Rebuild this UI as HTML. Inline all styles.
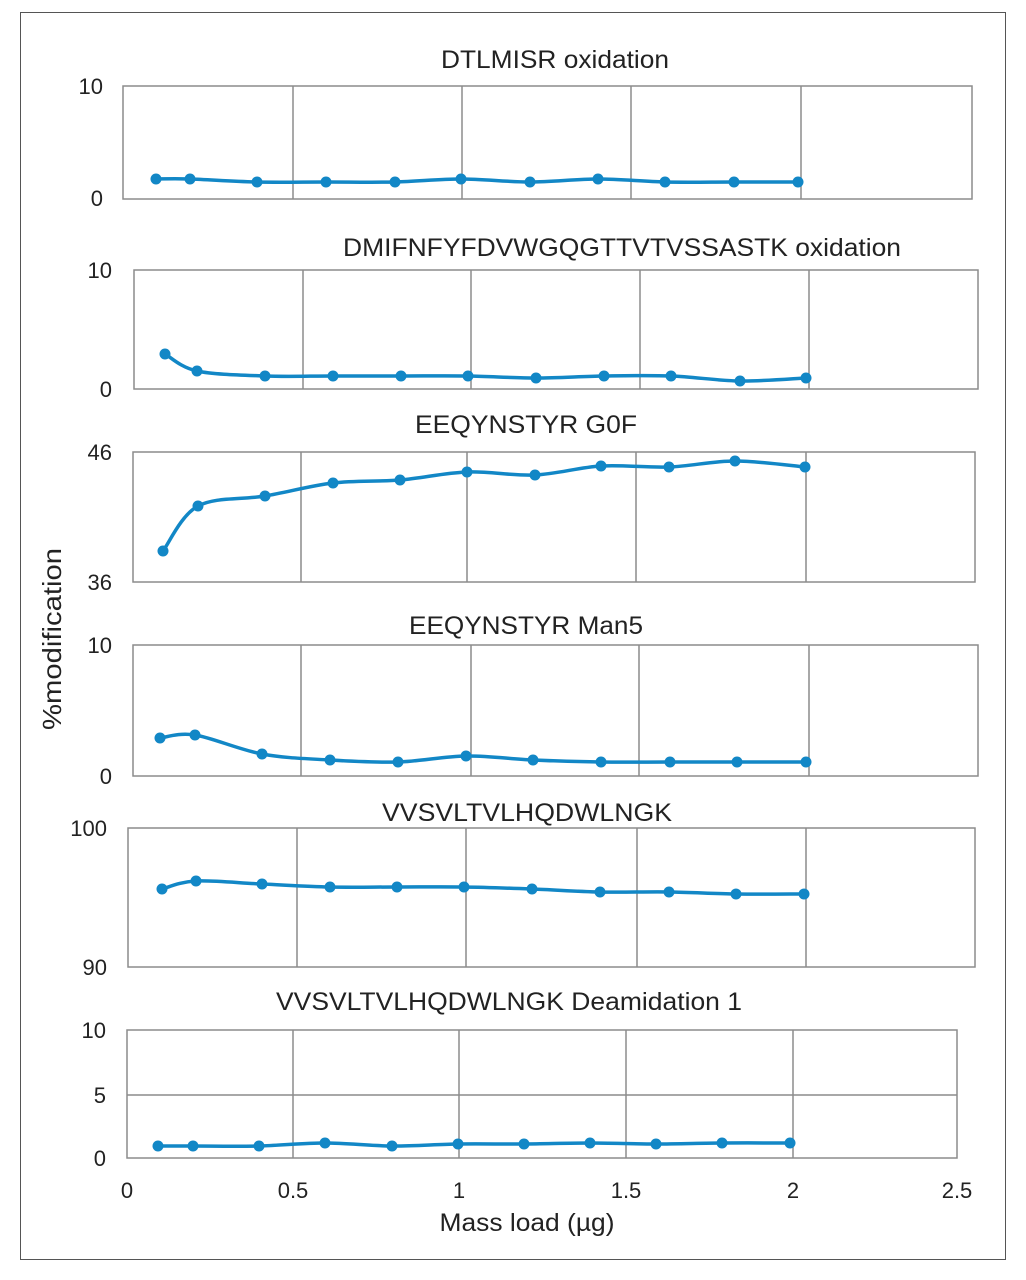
<!DOCTYPE html>
<html><head><meta charset="utf-8"><style>
html,body{margin:0;padding:0;background:#fff;}
svg{display:block;}
text{font-family:"Liberation Sans",Arial,sans-serif;fill:#222;}
</style></head><body>
<svg id="s" width="1026" height="1280" viewBox="0 0 1026 1280" xmlns="http://www.w3.org/2000/svg">
<rect x="20.5" y="12.5" width="985" height="1247" fill="none" stroke="#555" stroke-width="1"/>
<g font-size="25" text-anchor="middle" lengthAdjust="spacingAndGlyphs">
<text x="555" y="68" textLength="228" lengthAdjust="spacingAndGlyphs">DTLMISR oxidation</text>
<text x="622" y="256" textLength="558" lengthAdjust="spacingAndGlyphs">DMIFNFYFDVWGQGTTVTVSSASTK oxidation</text>
<text x="526" y="433" textLength="222" lengthAdjust="spacingAndGlyphs">EEQYNSTYR G0F</text>
<text x="526" y="634" textLength="234" lengthAdjust="spacingAndGlyphs">EEQYNSTYR Man5</text>
<text x="527" y="821" textLength="290" lengthAdjust="spacingAndGlyphs">VVSVLTVLHQDWLNGK</text>
<text x="509" y="1010" textLength="466" lengthAdjust="spacingAndGlyphs">VVSVLTVLHQDWLNGK Deamidation 1</text>
<text x="527" y="1231" textLength="175" lengthAdjust="spacingAndGlyphs">Mass load (µg)</text>
</g>
<g font-size="22" text-anchor="end">
<text x="103" y="94">10</text><text x="103" y="206">0</text>
<text x="112" y="278">10</text><text x="112" y="397">0</text>
<text x="112" y="460">46</text><text x="112" y="590">36</text>
<text x="112" y="653">10</text><text x="112" y="784">0</text>
<text x="107" y="836">100</text><text x="107" y="975">90</text>
<text x="106" y="1038">10</text><text x="106" y="1103">5</text><text x="106" y="1166">0</text>
</g>
<g font-size="22" text-anchor="middle">
<text x="127" y="1198">0</text><text x="293" y="1198">0.5</text><text x="459" y="1198">1</text>
<text x="626" y="1198">1.5</text><text x="793" y="1198">2</text><text x="957" y="1198">2.5</text>
</g>
<text font-size="26" text-anchor="middle" transform="translate(61,639) rotate(-90)" textLength="182" lengthAdjust="spacingAndGlyphs">%modification</text>
<g id="grid" fill="none" stroke="#8c8c8c" stroke-width="1.5"></g>
<g id="data"></g>
</svg>
<script>
var NS="http://www.w3.org/2000/svg";
var panels=[
{b:[123,86,972,199],v:[293,462,631,801],h:[],p:[[156,179],[190,179],[257,182],[326,182],[395,182],[461,179],[530,182],[598,179],[665,182],[734,182],[798,182]]},
{b:[134,270,978,389],v:[303,471,640,809],h:[],p:[[165,354],[197,371],[265,376],[333,376],[401,376],[468,376],[536,378],[604,376],[671,376],[740,381],[806,378]]},
{b:[133,452,975,582],v:[301,467,636,806],h:[],p:[[163,551],[198,506],[265,496],[333,483],[400,480],[467,472],[535,475],[601,466],[669,467],[735,461],[805,467]]},
{b:[133,645,978,776],v:[301,471,639,809],h:[],p:[[160,738],[195,735],[262,754],[330,760],[398,762],[466,756],[533,760],[601,762],[670,762],[737,762],[806,762]]},
{b:[128,828,975,967],v:[297,466,637,806],h:[],p:[[162,889],[196,881],[262,884],[330,887],[397,887],[464,887],[532,889],[600,892],[669,892],[736,894],[804,894]]},
{b:[127,1030,957,1158],v:[293,459,626,793],h:[1095],p:[[158,1146],[193,1146],[259,1146],[325,1143],[392,1146],[458,1144],[524,1144],[590,1143],[656,1144],[722,1143],[790,1143]]}
];
var g=document.getElementById("grid"),d=document.getElementById("data");
function el(n,a,par){var e=document.createElementNS(NS,n);for(var k in a)e.setAttribute(k,a[k]);par.appendChild(e);return e;}
panels.forEach(function(P){
 var b=P.b;
 el("rect",{x:b[0],y:b[1],width:b[2]-b[0],height:b[3]-b[1]},g);
 P.v.forEach(function(x){el("line",{x1:x,y1:b[1],x2:x,y2:b[3]},g);});
 P.h.forEach(function(y){el("line",{x1:b[0],y1:y,x2:b[2],y2:y},g);});
 var p=P.p,s="M"+p[0][0]+","+p[0][1];
 for(var i=0;i<p.length-1;i++){
  var p0=p[Math.max(i-1,0)],p1=p[i],p2=p[i+1],p3=p[Math.min(i+2,p.length-1)],t=6;
  s+=" C"+(p1[0]+(p2[0]-p0[0])/t)+","+(p1[1]+(p2[1]-p0[1])/t)+" "+(p2[0]-(p3[0]-p1[0])/t)+","+(p2[1]-(p3[1]-p1[1])/t)+" "+p2[0]+","+p2[1];
 }
 el("path",{d:s,fill:"none",stroke:"#1287c6","stroke-width":3.5},d);
 p.forEach(function(q){el("circle",{cx:q[0],cy:q[1],r:5.5,fill:"#1287c6"},d);});
});
</script>
</body></html>
